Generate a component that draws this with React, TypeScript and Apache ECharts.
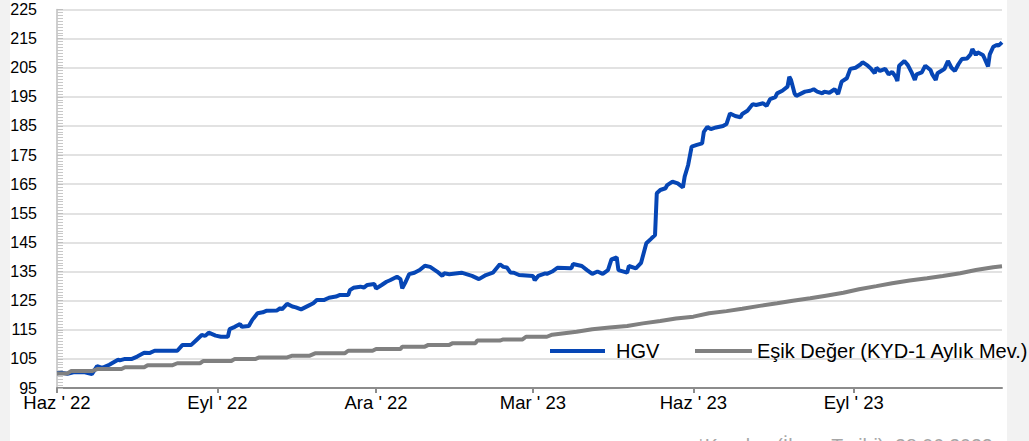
import React, { useEffect, useRef } from "react";
import * as echarts from "echarts";

// Days since issue date (28.06.2022) for the quarterly ticks
const tickDays = [0, 92, 183, 273, 365, 457];
const tickLabels = ["Haz ' 22", "Eyl ' 22", "Ara ' 22", "Mar ' 23", "Haz ' 23", "Eyl ' 23"];

const seriesNames = ["HGV", "Eşik Değer (KYD-1 Aylık Mev.)"];
const footnote = "*Kuruluş (İhraç Tarihi): 28.06.2022";

// [day since issue, value]
const hgvPoints: [number, number][] = [
  [0, 100.1], [3, 100.2], [6, 99.9], [10, 100.5], [16, 100.4], [20, 99.8], [23, 102.5], [26, 101.9],
  [30, 103], [35, 104.7], [36, 104.5], [39, 105], [43, 105], [46, 105.8], [50, 107.1], [53, 107],
  [56, 107.8], [69, 107.8], [72, 109.8], [77, 109.8], [80, 111.5], [83, 113.2], [85, 112.9], [87, 114],
  [91, 113], [94, 112.6], [98, 112.6], [99, 115.2], [102, 116], [105, 117], [106, 116], [110, 116.3],
  [112, 118.4], [115, 120.7], [118, 121], [120, 121.5], [126, 121.6], [128, 122.4], [129, 122], [132, 123.9],
  [135, 123], [137, 122.7], [140, 122], [144, 123.2], [147, 124.1], [149, 125.2], [153, 125.2], [156, 126],
  [160, 126.4], [162, 126.9], [167, 126.9], [168, 128.6], [170, 129.4], [174, 129.8], [176, 129.5], [178, 130.4],
  [182, 130.7], [183, 129.2], [186, 130.3], [189, 131.5], [191, 132], [195, 133.2], [197, 132.4], [198, 129.2],
  [200, 131.5], [202, 134.1], [205, 134.6], [208, 135.5], [211, 137], [214, 136.6], [218, 135], [221, 133.5],
  [222, 134.4], [225, 134.1], [232, 134.6], [238, 133.5], [242, 132.4], [246, 133.8], [250, 134.6], [254, 137.5],
  [256, 136.6], [258, 136.4], [260, 134.7], [262, 134.6], [265, 133.8], [273, 133.5], [274, 132], [276, 133.5],
  [280, 134.4], [281, 134.2], [284, 135], [287, 136.3], [295, 136.1], [296, 137.6], [301, 136.9], [304, 135.5],
  [307, 134.2], [310, 135], [313, 134.2], [316, 135.5], [318, 139.2], [321, 139.9], [322, 135.5], [327, 134.6],
  [328, 136.9], [332, 136.1], [335, 138], [338, 144.7], [341, 146.4], [343, 147.5], [344, 161.9], [346, 163],
  [349, 163.6], [350, 164.7], [353, 165.9], [356, 165.3], [359, 163.9], [360, 167.6], [362, 171.6], [364, 177.9],
  [367, 178.5], [370, 179], [371, 183], [373, 184.7], [375, 183.9], [378, 184.5], [382, 185], [384, 185.7],
  [386, 189.3], [389, 188.4], [392, 188], [393, 189.1], [396, 190.2], [399, 192.5], [401, 192.2], [405, 192.8],
  [407, 191.9], [409, 194.2], [412, 194.9], [413, 196.2], [416, 197.1], [419, 198.5], [420, 201.9], [421, 200.8],
  [423, 196.2], [424, 195.3], [427, 196.2], [429, 196.8], [432, 197.1], [434, 197.6], [436, 196.8], [439, 196.2],
  [440, 196.8], [443, 196.4], [446, 197.6], [448, 196], [450, 200.2], [453, 201.4], [455, 204.6], [458, 205],
  [461, 206.2], [462, 206.9], [465, 205.7], [467, 204.6], [469, 203.1], [470, 205], [472, 203.9], [475, 204.6],
  [477, 202.7], [479, 203.6], [481, 201.9], [482, 200.4], [483, 205.7], [486, 207.3], [488, 205.9], [490, 203.6],
  [492, 200.8], [493, 202.7], [496, 203.4], [498, 205.7], [501, 204.2], [502, 202.7], [504, 200.8], [505, 203.1],
  [508, 204.2], [509, 204.6], [511, 207.3], [513, 205], [515, 203.9], [517, 206.2], [519, 208], [522, 208.2],
  [524, 209.6], [525, 211.4], [527, 209.4], [528, 210.3], [531, 209.4], [532, 208.2], [534, 205.4], [535, 209.6],
  [537, 212.2], [539, 212.8], [540, 212.6], [542, 213.7],
];

const esikPoints: [number, number][] = [
  [0, 100], [6, 100], [8, 100.8], [20, 100.8], [23, 101.5], [37, 101.5], [39, 102.1], [50, 102.1],
  [52, 102.8], [66, 102.8], [69, 103.5], [82, 103.5], [84, 104.3], [100, 104.3], [102, 105], [114, 105],
  [116, 105.5], [132, 105.5], [135, 106.1], [145, 106.1], [148, 106.9], [165, 106.9], [167, 107.8], [181, 107.8],
  [183, 108.4], [197, 108.4], [198, 109.2], [211, 109.2], [213, 109.8], [225, 109.8], [227, 110.4], [240, 110.4],
  [241, 111.3], [254, 111.3], [256, 111.7], [267, 111.7], [269, 112.6], [281, 112.6], [284, 113.3], [298, 114.3],
  [307, 115.2], [317, 115.8], [327, 116.3], [336, 117.2], [346, 118], [355, 118.9], [365, 119.5], [374, 120.7],
  [384, 121.4], [393, 122.2], [403, 123.2], [413, 124.1], [422, 125], [432, 125.8], [441, 126.7], [451, 127.7],
  [460, 128.9], [470, 130], [479, 131], [489, 131.9], [499, 132.7], [508, 133.5], [518, 134.4], [527, 135.5],
  [537, 136.5], [542, 136.8],
];

const FONT = "'Liberation Sans', Arial, sans-serif";

export default function App() {
  const ref = useRef<HTMLDivElement>(null);
  useEffect(() => {
    document.body.style.margin = "0";
    const chart = echarts.init(ref.current!, null, { renderer: "svg" });
    chart.setOption({
      animation: false,
      grid: { left: 57, right: 27, top: 9.5, bottom: 53 },
      xAxis: {
        type: "value",
        min: 0,
        max: 542,
        axisLine: { show: true, lineStyle: { color: "#8c8c8c", width: 2 } },
        axisTick: { show: true, customValues: tickDays, length: 5, lineStyle: { color: "#8c8c8c", width: 2 } },
        axisLabel: {
          customValues: tickDays,
          formatter: (v: number) => {
            const i = tickDays.indexOf(Math.round(v));
            return i >= 0 ? tickLabels[i] : "";
          },
          fontSize: 18.5,
          color: "#000",
          fontFamily: FONT,
          margin: 5,
        },
        splitLine: { show: false },
      },
      yAxis: {
        type: "value",
        min: 95,
        max: 225,
        interval: 10,
        axisLine: { show: true, lineStyle: { color: "#bfbfbf", width: 1.5 } },
        axisTick: { show: true, inside: true, length: 6, lineStyle: { color: "#bfbfbf" } },
        minorTick: { show: true, splitNumber: 10, length: 6, lineStyle: { color: "#c8c8c8" } },
        axisLabel: { fontSize: 16, color: "#000", fontFamily: FONT, margin: 20 },
        splitLine: { show: true, lineStyle: { color: "#d9d9d9", width: 1.5 } },
      },
      legend: [
        {
          data: [seriesNames[0]],
          left: 545,
          top: 336,
          icon: "rect",
          itemWidth: 55,
          itemHeight: 4,
          textStyle: { fontSize: 20, color: "#000", fontFamily: FONT, padding: [0, 0, 0, 6] },
        },
        {
          data: [seriesNames[1]],
          left: 690,
          top: 336,
          icon: "rect",
          itemWidth: 57,
          itemHeight: 4,
          textStyle: { fontSize: 20, color: "#000", fontFamily: FONT },
        },
      ],
      graphic: [
        {
          type: "text",
          right: 36,
          top: 436,
          style: { text: footnote, fontSize: 19.5, fill: "#a6a6a6", fontFamily: FONT },
        },
      ],
      series: [
        {
          name: seriesNames[0],
          type: "line",
          data: hgvPoints,
          showSymbol: false,
          symbol: "none",
          lineStyle: { color: "#0646b5", width: 4 },
          itemStyle: { color: "#0646b5" },
        },
        {
          name: seriesNames[1],
          type: "line",
          data: esikPoints,
          showSymbol: false,
          symbol: "none",
          lineStyle: { color: "#808080", width: 4 },
          itemStyle: { color: "#808080" },
        },
      ],
    });
    return () => chart.dispose();
  }, []);
  return (
    <div
      style={{
        width: 1029,
        height: 441,
        background: "linear-gradient(to right, #f2f2f2 0px, #f2f2f2 10px, #ffffff 10px, #ffffff 1007px, #f2f2f2 1007px)",
      }}
    >
      <div ref={ref} style={{ width: 1029, height: 441 }} />
    </div>
  );
}
